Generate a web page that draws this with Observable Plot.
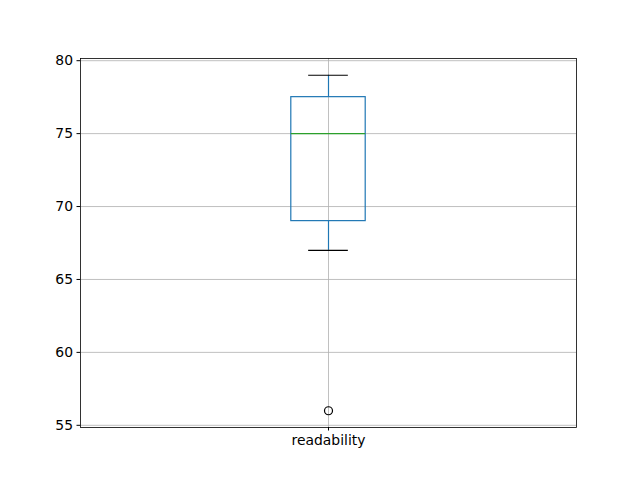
<!DOCTYPE html>
<html>
<head>
<meta charset="utf-8">
<script src="https://cdn.jsdelivr.net/npm/d3@7"></script>
<script src="https://cdn.jsdelivr.net/npm/@observablehq/plot@0.6"></script>
<style>
  html, body { margin: 0; padding: 0; background: #fff; }
  #chart svg { display: block; }
</style>
</head>
<body>
<div id="chart"></div>
<script>
const categories = ["readability"];
const q1 = [69];
const median = [75];
const q3 = [77.5];
const whiskerLow = [67];
const whiskerHigh = [79];
const outliers = [[56]];
const yTicks = [55, 60, 65, 70, 75, 80];

const boxes = categories.map((c, i) => ({
  name: c, pos: i + 1, q1: q1[i], median: median[i], q3: q3[i],
  lo: whiskerLow[i], hi: whiskerHigh[i]
}));
const outlierRows = categories.flatMap((c, i) => outliers[i].map(v => ({pos: i + 1, value: v})));

const halfBox = 0.075;
const halfCap = 0.040;
const font = "DejaVu Sans, sans-serif";

const chart = Plot.plot({
  width: 640,
  height: 480,
  marginLeft: 80,
  marginRight: 64,
  marginTop: 58,
  marginBottom: 53,
  style: {fontFamily: font, fontSize: "13.9px", color: "#000", background: "#fff"},
  x: {type: "linear", domain: [0.5, categories.length + 0.5]},
  y: {domain: [54.85, 80.15]},
  marks: [
    Plot.gridY(yTicks, {stroke: "#b0b0b0", strokeOpacity: 1, strokeWidth: 0.8}),
    Plot.gridX(boxes.map(d => d.pos), {stroke: "#b0b0b0", strokeOpacity: 1, strokeWidth: 0.8}),
    Plot.ruleX(boxes, {x: "pos", y1: "q3", y2: "hi", stroke: "#1f77b4", strokeWidth: 1.2}),
    Plot.ruleX(boxes, {x: "pos", y1: "q1", y2: "lo", stroke: "#1f77b4", strokeWidth: 1.2}),
    Plot.ruleY(boxes, {y: "hi", x1: d => d.pos - halfCap, x2: d => d.pos + halfCap, stroke: "#000", strokeWidth: 1.2}),
    Plot.ruleY(boxes, {y: "lo", x1: d => d.pos - halfCap, x2: d => d.pos + halfCap, stroke: "#000", strokeWidth: 1.2}),
    Plot.rect(boxes, {x1: d => d.pos - halfBox, x2: d => d.pos + halfBox, y1: "q1", y2: "q3", fill: "none", stroke: "#1f77b4", strokeWidth: 1.2}),
    Plot.ruleY(boxes, {y: "median", x1: d => d.pos - halfBox, x2: d => d.pos + halfBox, stroke: "#2ca02c", strokeWidth: 1.2}),
    Plot.dot(outlierRows, {x: "pos", y: "value", r: 4, stroke: "#000", fill: "none", strokeWidth: 1.2}),
    Plot.frame({stroke: "#000", strokeWidth: 0.8}),
    Plot.axisY(yTicks, {tickSize: 3.5, tickPadding: 4, label: null, fontSize: 13.9, stroke: "#000", tickFormat: d => String(d)}),
    Plot.axisX(boxes.map(d => d.pos), {tickSize: 3.5, tickPadding: 4, label: null, fontSize: 13.9, tickFormat: d => categories[d - 1]})
  ]
});
document.getElementById("chart").appendChild(chart);
</script>
</body>
</html>
